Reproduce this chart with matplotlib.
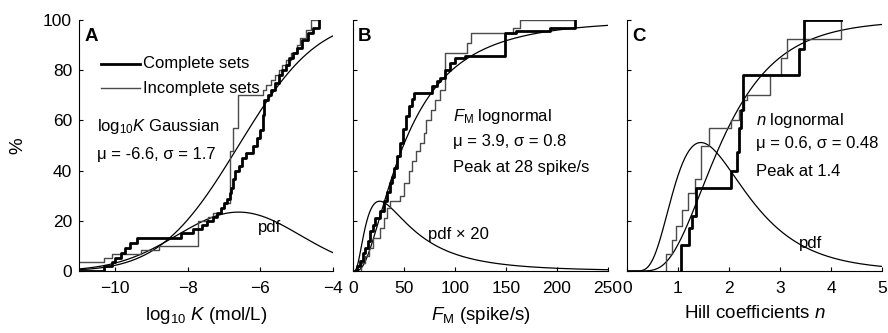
import math

import matplotlib
matplotlib.use("Agg")
import matplotlib.pyplot as plt
import numpy as np

plt.rcParams["font.family"] = ["Liberation Sans", "DejaVu Sans"]
plt.rcParams["mathtext.fontset"] = "custom"
plt.rcParams["mathtext.rm"] = "Liberation Sans"
plt.rcParams["mathtext.it"] = "Liberation Sans:italic"

# Panel A: log10 K, empirical CDFs (step x, level after step, %)
a_complete_x = [-11.0, -10.3, -10.1, -10.0, -9.85, -9.73, -9.6, -9.4, -8.2, -7.86, -7.6,
                -7.48, -7.3, -7.2, -7.1, -7.0, -6.93, -6.85, -6.8, -6.76, -6.7, -6.6,
                -6.5, -6.4, -6.2, -6.1, -6.0, -5.93, -5.89, -5.8, -5.7, -5.6, -5.5,
                -5.4, -5.3, -5.2, -5.1, -5.0, -4.85, -4.7, -4.55, -4.38]
a_complete_y = [0, 2, 3.5, 5, 7, 9, 11, 13.3, 15, 16.7, 18.3, 20, 21.7, 23.3, 25, 27,
                28.5, 31, 33, 36.5, 40, 42, 45, 47, 50, 53, 56, 62, 68, 70, 72, 75, 78,
                80, 82, 85, 87, 89, 92, 95, 97, 100]
a_incomplete_x = [-11.3, -10.3, -10.1, -9.3, -8.8, -7.72, -7.45, -7.3, -7.1, -7.0, -6.85,
                  -6.75, -6.62, -5.94, -5.85, -5.7, -5.6, -5.5, -5.4, -5.3, -5.15, -5.0,
                  -4.9, -4.75, -4.6, -4.38]
a_incomplete_y = [3.4, 5, 6.7, 8.3, 10, 20, 21.5, 23, 25, 27, 48, 57, 70, 72, 74, 76, 78,
                  80, 82, 84, 87, 90, 93, 96, 100, 100]

# Panel B: F_M (spike/s)
b_complete_x = [3.6, 7, 10, 12, 15, 17, 20, 22, 26, 30, 33, 36, 38, 40, 43, 46, 49, 52,
                55, 57.5, 60, 77, 82, 85, 90, 95, 100, 110, 149, 160, 193, 218]
b_complete_y = [2, 4, 7, 9.3, 12, 16, 18.5, 21, 24, 27.7, 31.6, 35, 37.5, 41, 46, 51,
                56.6, 61.8, 65.7, 68.4, 71, 73.6, 75.6, 77, 80.2, 82.8, 84.8, 85.5, 94.7,
                95.6, 96.9, 100]
b_incomplete_x = [8, 12, 16, 20, 26, 30, 33, 36, 46, 50, 55, 58, 62, 66, 70, 72, 76, 80,
                  85, 90, 112, 116, 157, 164, 218]
b_incomplete_y = [3, 6, 9, 13, 17, 21, 25, 28, 30, 35, 40, 44, 48, 51, 55, 60, 64, 68,
                  72, 87, 91, 95, 97, 100, 100]

# Panel C: Hill coefficients n
c_complete_x = [1.05, 1.22, 1.28, 1.35, 2.03, 2.16, 2.2, 2.24, 2.28, 3.37, 3.47, 4.19]
c_complete_y = [10.2, 17.2, 21.9, 33, 40, 47.5, 57, 64, 78, 88.6, 100, 100]
c_incomplete_x = [0.76, 0.88, 0.97, 1.08, 1.2, 1.33, 1.46, 1.61, 2.03, 2.2, 2.3, 2.36,
                  2.8, 3.01, 3.14, 4.19]
c_incomplete_y = [6.7, 12.5, 18, 24.5, 31, 36.5, 50, 57, 60, 64, 68, 70, 78, 85, 92.6, 100]

# Fitted distributions (mu, sigma) and pdf scale factors
a_fit = (-6.6, 1.7)
b_fit = (3.9, 0.8)
c_fit = (0.6, 0.48)
b_pdf_scale = 20

x_labels = [r"log$_{10}$ $K$ (mol/L)", r"$F_{\rm M}$ (spike/s)", r"Hill coefficients $n$"]
panel_letters = ["A", "B", "C"]
x_limits = [(-11, -4), (0, 250), (0, 5)]
x_ticks = [[-10, -8, -6, -4], [0, 50, 100, 150, 200, 250], [0, 1, 2, 3, 4, 5]]
y_ticks = [0, 20, 40, 60, 80, 100]

THIN = "#4a4a4a"


def norm_cdf(z):
    return 0.5 * (1 + np.array([math.erf(v / math.sqrt(2)) for v in z]))


def norm_pdf(z):
    return np.exp(-0.5 * z ** 2) / math.sqrt(2 * math.pi)


def draw_ecdf(ax, xs, ys, start_y, **kw):
    x = [xs[0]] + list(xs)
    y = [start_y] + list(ys)
    ax.step(x, y, where="post", **kw)


fig = plt.figure(figsize=(8.88, 3.33), dpi=100)
lefts = [79, 353, 627]
widths = [254, 255, 255]
axes = [fig.add_axes([l / 888, 62 / 333, w / 888, 251 / 333]) for l, w in zip(lefts, widths)]

for i, ax in enumerate(axes):
    for side in ("top", "right"):
        ax.spines[side].set_visible(False)
    ax.set_xlim(*x_limits[i])
    ax.set_ylim(0, 100)
    ax.set_xticks(x_ticks[i])
    ax.set_yticks(y_ticks)
    ax.tick_params(direction="in", length=3, labelsize=12.5, pad=5)
    ax.tick_params(axis="x", pad=7)
    if i > 0:
        ax.set_yticklabels([])
    ax.set_xlabel(x_labels[i], fontsize=13.5, labelpad=7)
    ax.text(0.02, 0.935, panel_letters[i], transform=ax.transAxes, fontsize=13.5,
            fontweight="bold", va="center")

axes[0].set_ylabel("%", fontsize=13.5, labelpad=12)

# Panel A
ax = axes[0]
x = np.linspace(-11, -4, 300)
mu, sd = a_fit
ax.plot(x, 100 * norm_cdf((x - mu) / sd), color="black", lw=0.9)
ax.plot(x, 100 * norm_pdf((x - mu) / sd) / sd, color="black", lw=0.9)
draw_ecdf(ax, a_incomplete_x, a_incomplete_y, a_incomplete_y[0], color=THIN, lw=1.0)
draw_ecdf(ax, a_complete_x, a_complete_y, 0, color="black", lw=2.0)
ax.plot([0.087, 0.24], [0.825, 0.825], transform=ax.transAxes, color="black", lw=2.0)
ax.plot([0.087, 0.24], [0.729, 0.729], transform=ax.transAxes, color=THIN, lw=1.0)
ax.text(0.252, 0.825, "Complete sets", transform=ax.transAxes, fontsize=12, va="center")
ax.text(0.252, 0.729, "Incomplete sets", transform=ax.transAxes, fontsize=12, va="center")
ax.text(0.071, 0.574, r"log$_{10}K$ Gaussian", transform=ax.transAxes, fontsize=12,
        va="center")
ax.text(0.071, 0.466, "\u03bc = -6.6, \u03c3 = 1.7", transform=ax.transAxes, fontsize=12,
        va="center")
ax.text(0.705, 0.175, "pdf", transform=ax.transAxes, fontsize=12, va="center")

# Panel B
ax = axes[1]
x = np.linspace(0.5, 250, 600)
mu, sd = b_fit
z = (np.log(x) - mu) / sd
ax.plot(x, 100 * norm_cdf(z), color="black", lw=0.9)
ax.plot(x, 100 * b_pdf_scale * norm_pdf(z) / (x * sd), color="black", lw=0.9)
draw_ecdf(ax, b_incomplete_x, b_incomplete_y, 0, color=THIN, lw=1.0)
draw_ecdf(ax, b_complete_x, b_complete_y, 0, color="black", lw=2.0)
ax.text(0.392, 0.614, r"$F_{\rm M}$ lognormal", transform=ax.transAxes, fontsize=12,
        va="center")
ax.text(0.392, 0.514, "\u03bc = 3.9, \u03c3 = 0.8", transform=ax.transAxes, fontsize=12,
        va="center")
ax.text(0.392, 0.414, "Peak at 28 spike/s", transform=ax.transAxes, fontsize=12,
        va="center")
ax.text(0.294, 0.147, "pdf \u00d7 20", transform=ax.transAxes, fontsize=12, va="center")

# Panel C
ax = axes[2]
x = np.linspace(0.01, 5, 500)
mu, sd = c_fit
z = (np.log(x) - mu) / sd
ax.plot(x, 100 * norm_cdf(z), color="black", lw=0.9)
ax.plot(x, 100 * norm_pdf(z) / (x * sd), color="black", lw=0.9)
draw_ecdf(ax, c_incomplete_x, c_incomplete_y, 0, color=THIN, lw=1.0)
draw_ecdf(ax, c_complete_x, c_complete_y, 0, color="black", lw=2.0)
ax.text(0.506, 0.598, r"$n$ lognormal", transform=ax.transAxes, fontsize=12, va="center")
ax.text(0.506, 0.506, "\u03bc = 0.6, \u03c3 = 0.48", transform=ax.transAxes, fontsize=12,
        va="center")
ax.text(0.506, 0.398, "Peak at 1.4", transform=ax.transAxes, fontsize=12, va="center")
ax.text(0.675, 0.108, "pdf", transform=ax.transAxes, fontsize=12, va="center")

fig.savefig("out.png", dpi=100)
